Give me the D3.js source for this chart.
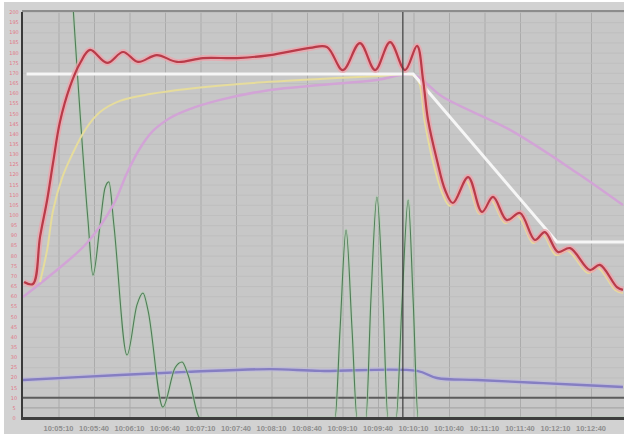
<!DOCTYPE html>
<html>
<head>
<meta charset="utf-8">
<script src="https://cdn.jsdelivr.net/npm/d3@7"></script>
<style>
  body { margin: 0; background: #ffffff; }
  svg { display: block; }
</style>
</head>
<body>
<div id="chart"></div>
<script>
//DATA
// x in grid steps, y in chart units (0-200)
const timeLabels = ["10:05:10","10:05:40","10:06:10","10:06:40","10:07:10","10:07:40","10:08:10","10:08:40",
  "10:09:10","10:09:40","10:10:10","10:10:40","10:11:10","10:11:40","10:12:10","10:12:40"];
const yTicks = d3.range(0, 201, 5);

const redX = [0.03,0.28,0.48,0.68,0.85,1.04,1.32,1.61,1.89,2.37,2.82,3.24,3.77,4.34,5.07,6.03,6.96,8.08,8.56,9.01,9.49,9.92,10.34,10.76,11.10,11.27,11.41,11.66,11.89,12.11,12.54,12.93,13.24,13.63,14.00,14.42,14.70,15.07,15.41,15.97,16.25,16.73,16.90];
const redY = [67.0,66.0,89.2,107.4,126.1,145.8,163.1,174.9,181.3,174.9,180.3,175.4,178.8,175.4,177.3,177.3,178.8,182.3,182.8,171.4,184.7,171.4,185.2,171.4,183.3,166.5,146.8,127.1,112.3,105.9,118.7,101.5,108.9,97.5,101.0,87.7,91.6,81.8,83.7,72.9,75.4,64.5,63.1];

const yellowX = [0.48,0.68,0.85,1.10,1.38,1.75,2.17,2.73,3.58,4.62,6.48,8.37,10.06,10.96,11.15,11.32,11.55,11.80,12.03,12.48,12.87,13.18,13.58,13.94,14.37,14.65,15.01,15.35,15.92,16.20,16.68,16.90];
const yellowY = [67.0,82.8,102.5,118.2,129.6,141.9,150.7,156.2,159.6,162.1,165.0,167.0,168.5,169.0,165.5,145.8,126.1,111.3,104.4,116.7,100.5,107.4,96.1,99.5,86.2,90.1,80.3,82.3,71.4,73.9,63.1,61.6];

const purpleX = [0,0.85,1.80,2.54,2.93,3.30,3.66,4.14,4.62,5.55,6.96,8.37,9.97,10.99,11.83,13.72,15.61,16.90];
const purpleY = [59.6,71.4,86.2,104.9,120.7,133.0,141.4,147.8,151.7,156.7,161.6,164.0,166.5,169.0,158.1,141.9,120.7,104.9];

const setX = [0.1,10.99,15.04,16.93];
const setY = [169.5,169.5,86.7,86.7];

const greenX = [1.38,1.83,1.97,2.17,2.31,2.42,2.56,2.93,3.21,3.38,3.52,3.94,4.28,4.48,4.65,4.99,8.79,8.93,9.10,9.27,9.41,9.66,9.80,9.97,10.14,10.28,10.51,10.68,10.85,10.99,11.13,16.93];
const greenY = [210.8,97.5,70.4,95.1,113.3,116.3,95.1,31.0,55.7,61.6,53.2,5.4,24.6,27.6,21.2,0,0,43.3,92.6,43.3,0,0,58.1,108.9,58.1,0,0,58.1,107.4,58.1,0,0];

const blueX = [0,2.73,4.62,6.96,8.37,11.10,11.66,12.79,14.65,16.90];
const blueY = [18.7,21.2,22.7,24.1,23.2,23.2,19.7,18.7,17.2,15.3];

const refLevels = [10, 5];
const cursorX = 10.70;

//SVG
const width = 624, height = 437;
const svg = d3.select("#chart").append("svg")
  .attr("width", width)
  .attr("height", height);

const x = d3.scaleLinear().domain([0, 601 / 35.5]).range([23, 624]);
const y = d3.scaleLinear().domain([0, 200]).range([418, 12]);

const defs = svg.append("defs");
defs.append("filter").attr("id", "soft")
  .append("feGaussianBlur").attr("stdDeviation", 0.6);
defs.append("clipPath").attr("id", "plot")
  .append("rect").attr("x", 22).attr("y", 12).attr("width", 602).attr("height", 406);

//BACKGROUND
svg.append("rect").attr("x", 4).attr("y", 2).attr("width", 620).attr("height", 432).attr("fill", "#d2d2d2");
svg.append("rect").attr("x", 22).attr("y", 12).attr("width", 602).attr("height", 406).attr("fill", "#c7c7c7");

//GRID
svg.append("g")
  .attr("transform", "translate(0,418)")
  .call(d3.axisBottom(x).tickValues(d3.range(1, 17)).tickSize(-406).tickFormat(""))
  .call(g => g.select(".domain").remove())
  .call(g => g.selectAll("line").attr("stroke", "#ababab").attr("stroke-width", 1));

svg.append("g")
  .attr("transform", "translate(22,0)")
  .call(d3.axisLeft(y).tickValues(yTicks).tickSize(-602).tickFormat(""))
  .call(g => g.select(".domain").remove())
  .call(g => g.selectAll("line").attr("stroke", "#bcbcbc").attr("stroke-width", 0.8));

// top border
svg.append("line").attr("x1", 22).attr("x2", 624).attr("y1", 11).attr("y2", 11)
  .attr("stroke", "#8c8c8c").attr("stroke-width", 2);

//REFERENCE LINES
svg.selectAll(".ref")
  .data(refLevels)
  .join("line")
  .attr("class", "ref")
  .attr("x1", 22).attr("x2", 624)
  .attr("y1", d => y(d)).attr("y2", d => y(d))
  .attr("stroke", (d, i) => i === 0 ? "#5c5c5c" : "#a4a4a4")
  .attr("stroke-width", (d, i) => i === 0 ? 2 : 1);

//LINES
const plot = svg.append("g").attr("clip-path", "url(#plot)")
  .append("g").attr("filter", "url(#soft)");

function series(xs, ys) {
  return xs.map((v, i) => [v, ys[i]]);
}

const smooth = d3.line().x(d => x(d[0])).y(d => y(d[1])).curve(d3.curveCatmullRom.alpha(0.5));
const mono = d3.line().x(d => x(d[0])).y(d => y(d[1])).curve(d3.curveMonotoneX);
const straight = d3.line().x(d => x(d[0])).y(d => y(d[1]));

// blue
plot.append("path").attr("d", smooth(series(blueX, blueY)))
  .attr("fill", "none").attr("stroke", "#bcb8e0").attr("stroke-width", 5).attr("opacity", 0.6);
plot.append("path").attr("d", smooth(series(blueX, blueY)))
  .attr("fill", "none").attr("stroke", "#857ec2").attr("stroke-width", 2.4);

// green
plot.append("path").attr("d", mono(series(greenX, greenY)))
  .attr("fill", "none").attr("stroke", "#a8d0a8").attr("stroke-width", 3).attr("opacity", 0.5);
plot.append("path").attr("d", mono(series(greenX, greenY)))
  .attr("fill", "none").attr("stroke", "#507c58").attr("stroke-width", 1.1);

// purple
plot.append("path").attr("d", smooth(series(purpleX, purpleY)))
  .attr("fill", "none").attr("stroke", "#d2a4d6").attr("stroke-width", 2.5);

// yellow
plot.append("path").attr("d", smooth(series(yellowX, yellowY)))
  .attr("fill", "none").attr("stroke", "#e6dc9c").attr("stroke-width", 2);

// setpoint
plot.append("path").attr("d", straight(series(setX, setY)))
  .attr("fill", "none").attr("stroke", "#f6f6f6").attr("stroke-width", 3);

// red
plot.append("path").attr("d", smooth(series(redX, redY)))
  .attr("fill", "none").attr("stroke", "#eea4ac").attr("stroke-width", 6).attr("opacity", 0.75);
plot.append("path").attr("d", smooth(series(redX, redY)))
  .attr("fill", "none").attr("stroke", "#b93a48").attr("stroke-width", 2.2);

// cursor
svg.append("line")
  .attr("x1", x(cursorX)).attr("x2", x(cursorX))
  .attr("y1", 12).attr("y2", 418)
  .attr("stroke", "#3c3c3c").attr("stroke-width", 1.2);

//AXES
svg.append("line").attr("x1", 22).attr("x2", 22).attr("y1", 12).attr("y2", 419)
  .attr("stroke", "#3a3a3a").attr("stroke-width", 2);
svg.append("line").attr("x1", 21).attr("x2", 624).attr("y1", 418.5).attr("y2", 418.5)
  .attr("stroke", "#3e3e3e").attr("stroke-width", 3);

svg.selectAll(".ylab")
  .data(yTicks)
  .join("text")
  .attr("class", "ylab")
  .attr("x", 14)
  .attr("y", d => y(d) + 2)
  .attr("text-anchor", "middle")
  .attr("font-family", "DejaVu Sans, sans-serif")
  .attr("font-size", "5px")
  .attr("fill", "#e07888")
  .text(d => d);

svg.selectAll(".xlab")
  .data(timeLabels)
  .join("text")
  .attr("class", "xlab")
  .attr("x", (d, i) => x(i + 1))
  .attr("y", 431)
  .attr("text-anchor", "middle")
  .attr("font-family", "Liberation Sans, Arial, sans-serif")
  .attr("font-size", "7.5px")
  .attr("font-weight", "bold")
  .attr("fill", "#8e8e8e")
  .text(d => d);
</script>
</body>
</html>
